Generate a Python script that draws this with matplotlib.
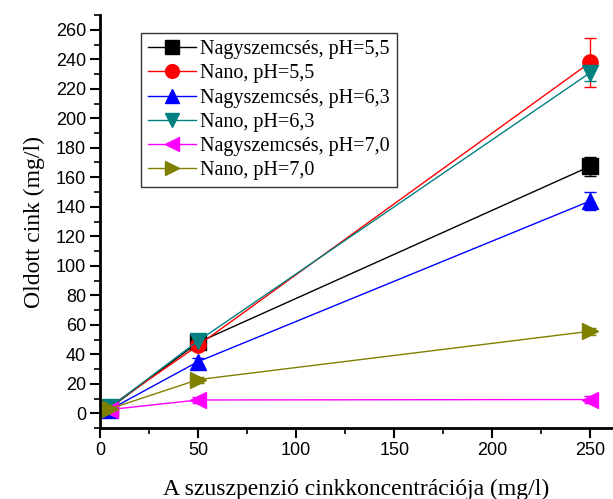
import matplotlib
matplotlib.use("Agg")
import matplotlib.pyplot as plt
from matplotlib.ticker import MultipleLocator

# zinc concentration of the suspension (mg/l)
conc = [5, 50, 250]

labels = ["Nagyszemcsés, pH=5,5", "Nano, pH=5,5", "Nagyszemcsés, pH=6,3",
          "Nano, pH=6,3", "Nagyszemcsés, pH=7,0", "Nano, pH=7,0"]
big_55 = [3.5, 48, 167.5]
nano_55 = [4.5, 46, 238]
big_63 = [2.5, 35, 144]
nano_63 = [4, 49, 231]
big_70 = [2.5, 9, 9.3]
nano_70 = [3, 22.8, 55.6]

err_big_55 = [1.5, 2.5, 6.5]
err_nano_55 = [1.5, 2.5, 16.5]
err_big_63 = [1.5, 2.5, 6]
err_nano_63 = [1.5, 2.5, 6]
err_big_70 = [1.5, 2, 2.5]
err_nano_70 = [1.5, 2, 2.5]

series = [big_55, nano_55, big_63, nano_63, big_70, nano_70]
errors = [err_big_55, err_nano_55, err_big_63, err_nano_63, err_big_70, err_nano_70]
colors = ["black", "red", "blue", "#008080", "#FF00FF", "#808000"]
markers = ["s", "o", "^", "v", "<", ">"]

fig = plt.figure(figsize=(6.13, 4.99), dpi=100)
ax = fig.add_axes([100 / 613, 71 / 499, 513 / 613, 413 / 499])

handles = []
for y, e, c, m in zip(series, errors, colors, markers):
    cont = ax.errorbar(conc, y, yerr=e, color=c, marker=m, ms=11, lw=1, capsize=4,
                       elinewidth=1)
    handles.append(cont[0])

ax.set_xlim(0, 261.5)
ax.set_ylim(-10, 270)
ax.xaxis.set_major_locator(MultipleLocator(50))
ax.xaxis.set_minor_locator(MultipleLocator(25))
ax.yaxis.set_major_locator(MultipleLocator(20))
ax.yaxis.set_minor_locator(MultipleLocator(10))
ax.spines["top"].set_visible(False)
ax.spines["right"].set_visible(False)
ax.spines["left"].set_linewidth(2)
ax.spines["bottom"].set_linewidth(2)
ax.tick_params(which="major", length=7, width=1.5, labelsize=13, pad=3)
ax.tick_params(which="minor", length=4, width=1.2)
for t in ax.get_xticklabels() + ax.get_yticklabels():
    t.set_family("Liberation Sans")

ax.set_xlabel("A szuszpenzió cinkkoncentrációja (mg/l)", family="Liberation Serif",
              fontsize=17, labelpad=14)
ax.set_ylabel("Oldott cink (mg/l)", family="Liberation Serif", fontsize=17, labelpad=8)

leg = ax.legend(handles, labels, loc="upper left", bbox_to_anchor=(0.08, 0.956),
                borderaxespad=0, frameon=True, fancybox=False, edgecolor="black",
                prop={"family": "Liberation Serif", "size": 14.5}, markerscale=0.9,
                handlelength=2.4, handletextpad=0.2, labelspacing=0.25, borderpad=0.35)
leg.get_frame().set_linewidth(1)

fig.savefig("out.png", dpi=100)
